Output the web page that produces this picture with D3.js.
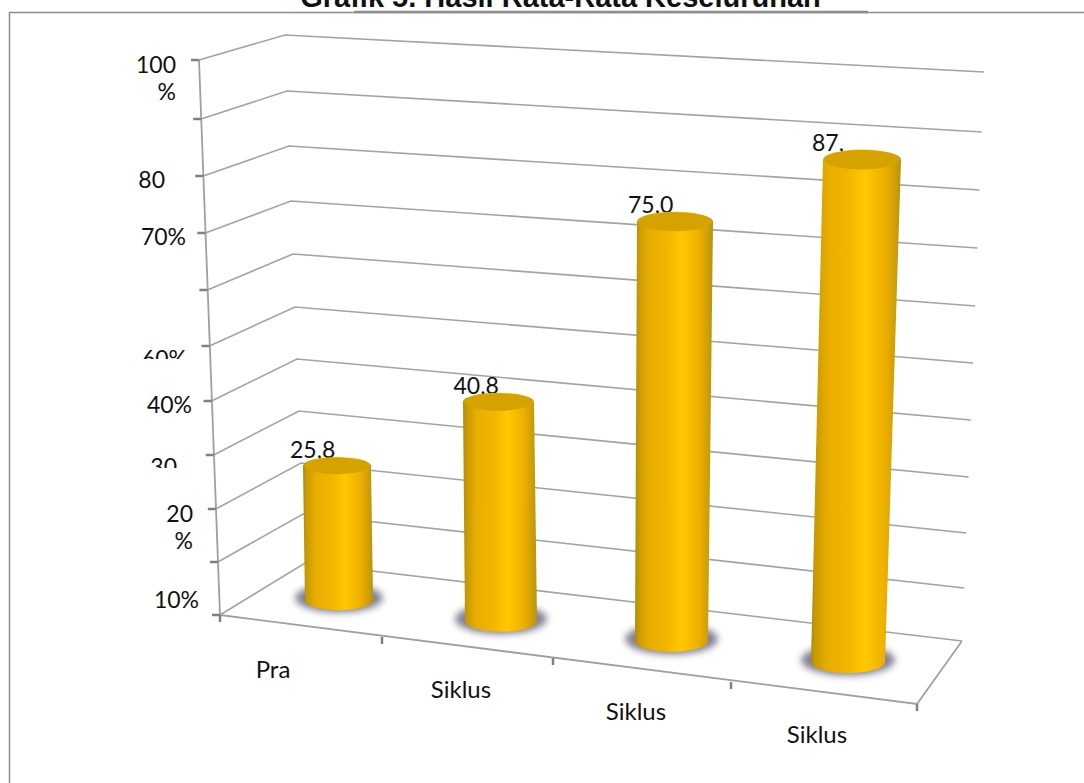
<!DOCTYPE html>
<html lang="id">
<head>
<meta charset="utf-8">
<title>Grafik 5</title>
<script src="https://cdn.jsdelivr.net/npm/d3@7/dist/d3.min.js"></script>
<style>
html, body { margin: 0; padding: 0; background: #fff; }
svg { display: block; }
text { font-family: Lato, "Open Sans", sans-serif; fill: #111; }
</style>
</head>
<body>
<script>
// data
var categories = ["Pra", "Siklus", "Siklus", "Siklus"];
var values = [25.8, 40.8, 75.0, 87.5];
var valueLabels = ["25,8", "40,8", "75,0", "87,"];
var gridValues = [0, 10, 20, 30, 40, 50, 60, 70, 80, 90, 100];
var tickLabels = ["10%", "20|%", "30", "40%", "60%", "70%", "80", "100|%"];

var w = 1084, h = 783;

var svg = d3.select("body").append("svg").attr("width", w).attr("height", h);
var defs = svg.append("defs");

// edges of the fake 3d box, one scale per edge
var frontX = d3.scaleLinear().domain([0, 100]).range([220, 199]);
var frontY = d3.scaleLinear().domain(gridValues).range([615, 562, 509, 455, 401, 346, 290, 233, 176, 119, 60]);
var backX = d3.scaleLinear().domain([0, 100]).range([305, 285]);
var backY = d3.scaleLinear().domain(gridValues).range([563, 514, 463, 411, 359, 307, 254, 201, 146, 91, 35]);
var rightX = d3.scaleLinear().domain([0, 100]).range([962, 984]);
var rightY = d3.scaleLinear().domain(gridValues).range([641, 588, 533, 477, 420, 363, 306, 248, 190, 132, 72]);

// floor front edge
var floorX = d3.scaleLinear().domain([0, 1, 2, 3, 4]).range([220, 382, 553, 731, 917]);
var floorY = d3.scaleLinear().domain([0, 1, 2, 3, 4]).range([615, 637, 658, 682, 704]);

// bars, base and top follow the depth of the floor
var barIdx = [0, 1, 2, 3];
var barBaseX = d3.scaleLinear().domain(barIdx).range([339, 501, 671.5, 848]);
var barBaseY = d3.scaleLinear().domain(barIdx).range([600, 621, 641, 662]);
var barBaseR = d3.scaleLinear().domain(barIdx).range([34, 36, 36.5, 37]);
var barTopX = d3.scaleLinear().domain(barIdx).range([337, 498.5, 675, 862]);
var barTopR = d3.scaleLinear().domain(barIdx).range([34, 35.5, 38, 39]);
var barUnit = d3.scaleLinear().domain(barIdx).range([5.2, 5.37, 5.59, 5.74]);
var labelShift = d3.scaleLinear().domain(barIdx).range([47, 45, 47, 50]);

function barTopY(d, i) { return barBaseY(i) - d * barUnit(i); }
function lidRy(i) { return barTopR(i) * 0.26; }

// frame
var frame = svg.append("g").attr("stroke", "#8c8c8c").attr("fill", "none");
frame.append("line").attr("x1", 9.5).attr("x2", 9.5).attr("y1", 12).attr("y2", h).attr("stroke-width", 1.5);
frame.append("line").attr("x1", 9).attr("x2", w).attr("y1", 12.5).attr("y2", 12.5).attr("stroke-width", 1.3);
frame.append("line").attr("x1", 354).attr("x2", 868).attr("y1", 12).attr("y2", 12).attr("stroke-width", 2.6);

// title, the top is cut off by the page like in the reference
svg.append("text").attr("x", 560.5).attr("y", 7).attr("text-anchor", "middle")
    .style("font-family", "'Liberation Sans', Arial, sans-serif")
    .style("font-weight", "bold").style("font-size", "29px")
    .text("Grafik 5. Hasil Rata-Rata Keseluruhan");

// gridlines
var grid = svg.append("g").attr("fill", "none").attr("stroke", "#a3a3a6").attr("stroke-width", 1.6);
grid.selectAll("path").data(gridValues).enter().append("path")
    .attr("d", function(d) {
        return d3.line()([[frontX(d), frontY(d)], [backX(d), backY(d)], [rightX(d), rightY(d)]]);
    });

// floor outline and axes
var axes = svg.append("g").attr("stroke", "#a0a0a0").attr("fill", "none").attr("stroke-width", 1.8);
axes.append("path").attr("d", d3.line()([[frontX(100), frontY(100)], [frontX(0), frontY(0)]]));
axes.append("path").attr("d", d3.line()([[floorX(0), floorY(0)], [floorX(4), floorY(4)], [rightX(0), rightY(0)]]));

var ticks = svg.append("g").attr("stroke", "#808080").attr("stroke-width", 2.5);
ticks.selectAll("line.y").data(gridValues).enter().append("line").attr("class", "y")
    .attr("x1", function(d) { return frontX(d) - 8; })
    .attr("x2", function(d) { return frontX(d); })
    .attr("y1", function(d) { return frontY(d); })
    .attr("y2", function(d) { return frontY(d); });
ticks.selectAll("line.x").data(d3.range(5)).enter().append("line").attr("class", "x")
    .attr("x1", function(d) { return floorX(d); })
    .attr("x2", function(d) { return floorX(d); })
    .attr("y1", function(d) { return floorY(d); })
    .attr("y2", function(d) { return floorY(d) + 7; });

// cylinder shading
var grad = defs.append("linearGradient").attr("id", "cyl").attr("x1", 0).attr("x2", 1).attr("y1", 0).attr("y2", 0);
[[0, "#b08a08"], [0.05, "#c89a04"], [0.18, "#e8ad00"], [0.42, "#f2b600"], [0.6, "#ffc800"], [0.82, "#eeb000"], [0.95, "#c99c08"], [1, "#b09214"]]
    .forEach(function(s) { grad.append("stop").attr("offset", s[0]).attr("stop-color", s[1]); });
defs.append("filter").attr("id", "soft").attr("x", "-30%").attr("y", "-60%").attr("width", "160%").attr("height", "220%")
    .append("feGaussianBlur").attr("stdDeviation", 3.5);

// value labels go under the bars, the lid overlaps them a bit
svg.selectAll("text.value").data(values).enter().append("text")
    .attr("class", "value")
    .attr("x", function(d, i) { return barTopX(i) - labelShift(i); })
    .attr("y", function(d, i) { return barTopY(d, i) - lidRy(i) + 1; })
    .style("font-size", "23px")
    .text(function(d, i) { return valueLabels[i]; });

var bars = svg.selectAll("g.bar").data(values).enter().append("g").attr("class", "bar");

// shadow on the floor
bars.append("ellipse")
    .attr("cx", function(d, i) { return barBaseX(i); })
    .attr("cy", function(d, i) { return barBaseY(i) - 2; })
    .attr("rx", function(d, i) { return barBaseR(i) + 10; })
    .attr("ry", function(d, i) { return barBaseR(i) * 0.34 + 3; })
    .attr("fill", "#62627a").attr("opacity", 0.8).attr("filter", "url(#soft)");

bars.append("path")
    .attr("fill", "url(#cyl)")
    .attr("d", function(d, i) {
        var r = barTopR(i), ry = lidRy(i);
        var br = barBaseR(i), bry = br * 0.3;
        var bx = barBaseX(i), by = barBaseY(i);
        var tx = barTopX(i), ty = barTopY(d, i);
        return "M" + (tx - r) + "," + ty +
            "L" + (bx - br) + "," + by +
            "A" + br + "," + bry + " 0 0 0 " + (bx + br) + "," + by +
            "L" + (tx + r) + "," + ty +
            "A" + r + "," + ry + " 0 0 0 " + (tx - r) + "," + ty + "Z";
    });

bars.append("ellipse")
    .attr("cx", function(d, i) { return barTopX(i); })
    .attr("cy", function(d, i) { return barTopY(d, i); })
    .attr("rx", function(d, i) { return barTopR(i) - 1; })
    .attr("ry", function(d, i) { return lidRy(i) - 0.5; })
    .attr("fill", "#d6a200");

// y labels, some wrap on two lines like in the source
var yLabelRight = d3.scaleOrdinal().domain(tickLabels).range([199, 193, 177, 192, 187, 186, 165, 176]);
var yLabelBase = d3.scaleOrdinal().domain(tickLabels).range([608, 522, 475, 413, 367, 245, 188, 73]);
var yl = svg.selectAll("text.ylabel").data(tickLabels).enter().append("text")
    .attr("class", "ylabel")
    .attr("text-anchor", "end")
    .style("font-size", "23px")
    .attr("x", function(d) { return yLabelRight(d); })
    .attr("y", function(d) { return yLabelBase(d); });
yl.selectAll("tspan").data(function(d) { return d.split("|"); }).enter().append("tspan")
    .attr("x", function() { return d3.select(this.parentNode).attr("x"); })
    .attr("dy", function(d, i) { return i ? 27 : 0; })
    .text(function(d) { return d; });

// 60% and 30 are cut at the bottom
[["60%", 359], ["30", 468]].forEach(function(c, i) {
    defs.append("clipPath").attr("id", "clipy" + i).append("rect")
        .attr("x", 0).attr("y", 0).attr("width", w).attr("height", c[1]);
    yl.filter(function(d) { return d === c[0]; }).attr("clip-path", "url(#clipy" + i + ")");
});

// category labels
var catLabelX = d3.scaleLinear().domain(barIdx).range([273, 461, 636, 817]);
var catLabelY = d3.scaleLinear().domain(barIdx).range([678, 698, 720, 743]);
svg.selectAll("text.cat").data(categories).enter().append("text")
    .attr("class", "cat")
    .attr("text-anchor", "middle")
    .attr("x", function(d, i) { return catLabelX(i); })
    .attr("y", function(d, i) { return catLabelY(i); })
    .style("font-size", "24px")
    .text(function(d) { return d; });
</script>
</body>
</html>
